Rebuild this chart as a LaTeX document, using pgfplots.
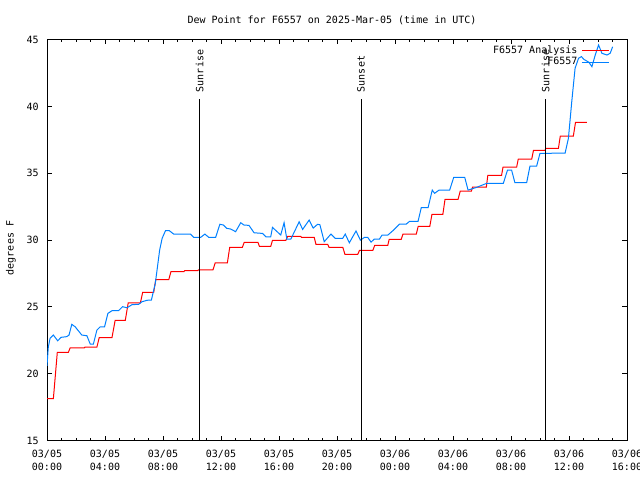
\documentclass[border=0pt]{standalone}
\usepackage{pgfplots}
\pgfplotsset{compat=1.18}
\usepackage{fontspec}
\setmainfont{DejaVu Sans Mono}
\newcommand{\gfont}{\fontsize{7.5}{9.75}\selectfont}
\definecolor{obsblue}{RGB}{0,128,255}
\definecolor{anared}{RGB}{255,0,0}
\begin{document}
\begin{tikzpicture}
\path[use as bounding box] (0,0) rectangle (480pt,360pt);
\node[font=\gfont] at (249pt,345pt) {Dew Point for F6557 on 2025-Mar-05 (time in UTC)};
\node[font=\gfont, rotate=90] at (8.25pt,174pt) {degrees F};
\begin{axis}[
  at={(35.25pt,29.475pt)}, anchor=south west,
  width=435pt, height=300.9pt, scale only axis,
  xmin=0, xmax=40, ymin=15, ymax=45,
  xtick={0,4,...,40},
  xticklabels={{03/05\\00:00},{03/05\\04:00},{03/05\\08:00},{03/05\\12:00},{03/05\\16:00},{03/05\\20:00},{03/06\\00:00},{03/06\\04:00},{03/06\\08:00},{03/06\\12:00},{03/06\\16:00}},
  minor x tick num=3,
  ytick={15,20,...,45},
  tick align=inside,
  major tick length=3.5pt, minor tick length=1.8pt,
  every tick/.style={black, line width=0.75pt},
  axis line style={line width=0.75pt},
  tick label style={font=\gfont},
  xticklabel style={align=center, yshift=-3.6pt},
  yticklabel style={xshift=-2.8pt},
  /pgf/number format/assume math mode=true,
  legend plot pos=right,
  legend cell align=right,
  legend style={draw=none, fill=none, font=\gfont, at={(0.973,0.995)}, anchor=north east, row sep=-2.5pt, inner sep=1pt, nodes={inner xsep=3pt}},
  legend image code/.code={\draw[#1] (0pt,0pt) -- (20.5pt,0pt);},
]
\addplot[anared, line width=0.75pt] coordinates {
(0,18.15) (0.44,18.15) (0.71,21.6) (1.47,21.6) (1.6,21.95) (2.58,21.95) (2.62,22.0) (3.44,22.0) (3.6,22.7) (4.48,22.7) (4.7,24.0) (5.4,24.0) (5.6,25.3) (6.44,25.3) (6.6,26.1) (7.36,26.1) (7.5,27.05) (8.4,27.05) (8.55,27.65) (9.45,27.65) (9.5,27.72) (10.4,27.72) (10.45,27.78) (11.45,27.78) (11.6,28.3) (12.44,28.3) (12.6,29.45) (13.47,29.45) (13.6,29.83) (14.55,29.83) (14.65,29.53) (15.43,29.53) (15.55,29.98) (16.47,29.98) (16.6,30.28) (17.5,30.28) (17.55,30.2) (18.43,30.2) (18.55,29.68) (19.36,29.68) (19.45,29.46) (20.4,29.46) (20.55,28.93) (21.43,28.93) (21.55,29.23) (22.47,29.23) (22.6,29.6) (23.5,29.6) (23.6,30.06) (24.43,30.06) (24.55,30.45) (25.47,30.45) (25.6,31.03) (26.4,31.03) (26.55,31.93) (27.3,31.93) (27.45,33.05) (28.35,33.05) (28.5,33.67) (29.27,33.67) (29.35,33.97) (30.3,33.97) (30.4,34.84) (31.35,34.84) (31.45,35.46) (32.39,35.46) (32.5,36.06) (33.43,36.06) (33.55,36.71) (34.35,36.71) (34.4,36.86) (35.27,36.86) (35.4,37.78) (36.3,37.78) (36.45,38.81) (37.23,38.81)
};
\addlegendentry{F6557 Analysis}
\addplot[obsblue, line width=0.75pt] coordinates {
(0.0,20.6) (0.09,22.0) (0.21,22.65) (0.44,22.9) (0.74,22.47) (0.97,22.73) (1.36,22.78) (1.52,22.9) (1.71,23.7) (1.94,23.52) (2.4,22.9) (2.75,22.85) (2.98,22.23) (3.2,22.23) (3.44,23.27) (3.67,23.52) (3.97,23.52) (4.2,24.52) (4.48,24.72) (4.93,24.72) (5.21,25.02) (5.52,24.94) (5.86,25.17) (6.32,25.2) (6.55,25.39) (6.9,25.5) (7.2,25.52) (7.47,26.77) (7.77,29.26) (7.94,30.13) (8.17,30.7) (8.44,30.7) (8.74,30.45) (9.9,30.45) (10.12,30.2) (10.59,30.2) (10.89,30.45) (11.16,30.2) (11.63,30.2) (11.92,31.18) (12.16,31.13) (12.39,30.88) (12.66,30.83) (13.01,30.63) (13.36,31.3) (13.58,31.13) (13.93,31.1) (14.28,30.55) (14.86,30.5) (15.09,30.25) (15.43,30.25) (15.55,30.95) (16.12,30.38) (16.35,31.3) (16.54,30.08) (16.82,30.08) (17.39,31.37) (17.63,30.8) (18.08,31.5) (18.36,30.9) (18.66,31.18) (18.82,31.15) (19.12,29.88) (19.58,30.45) (19.88,30.13) (20.39,30.13) (20.57,30.45) (20.85,29.8) (21.31,30.68) (21.61,30.0) (21.89,30.2) (22.12,30.2) (22.35,29.85) (22.58,30.08) (22.93,30.08) (23.11,30.38) (23.51,30.38) (23.85,30.7) (24.08,30.95) (24.31,31.2) (24.78,31.2) (25.0,31.4) (25.59,31.4) (25.81,32.42) (26.28,32.42) (26.57,33.74) (26.73,33.5) (27.04,33.74) (27.77,33.74) (28.05,34.69) (28.81,34.69) (29.04,33.74) (29.62,33.94) (30.31,34.24) (31.47,34.24) (31.76,35.24) (32.04,35.24) (32.27,34.29) (33.08,34.29) (33.31,35.54) (33.77,35.54) (34.0,36.49) (35.73,36.5) (35.96,37.61) (36.19,40.35) (36.42,42.85) (36.66,43.6) (36.86,43.72) (37.02,43.52) (37.37,43.3) (37.58,42.97) (37.81,43.84) (38.04,44.59) (38.27,43.97) (38.62,43.84) (38.84,43.97) (39.01,44.46)
};
\addlegendentry{F6557}
\addplot[black, line width=0.75pt, forget plot] coordinates {(10.52,15) (10.52,40.55)};
\addplot[black, line width=0.75pt, forget plot] coordinates {(21.66,15) (21.66,40.55)};
\addplot[black, line width=0.75pt, forget plot] coordinates {(34.39,15) (34.39,40.55)};
\node[rotate=90, anchor=west, font=\gfont, inner sep=0pt] at (axis cs:10.52,41.05) {Sunrise};
\node[rotate=90, anchor=west, font=\gfont, inner sep=0pt] at (axis cs:21.66,41.05) {Sunset};
\node[rotate=90, anchor=west, font=\gfont, inner sep=0pt] at (axis cs:34.39,41.05) {Sunrise};
\end{axis}
\end{tikzpicture}
\end{document}
